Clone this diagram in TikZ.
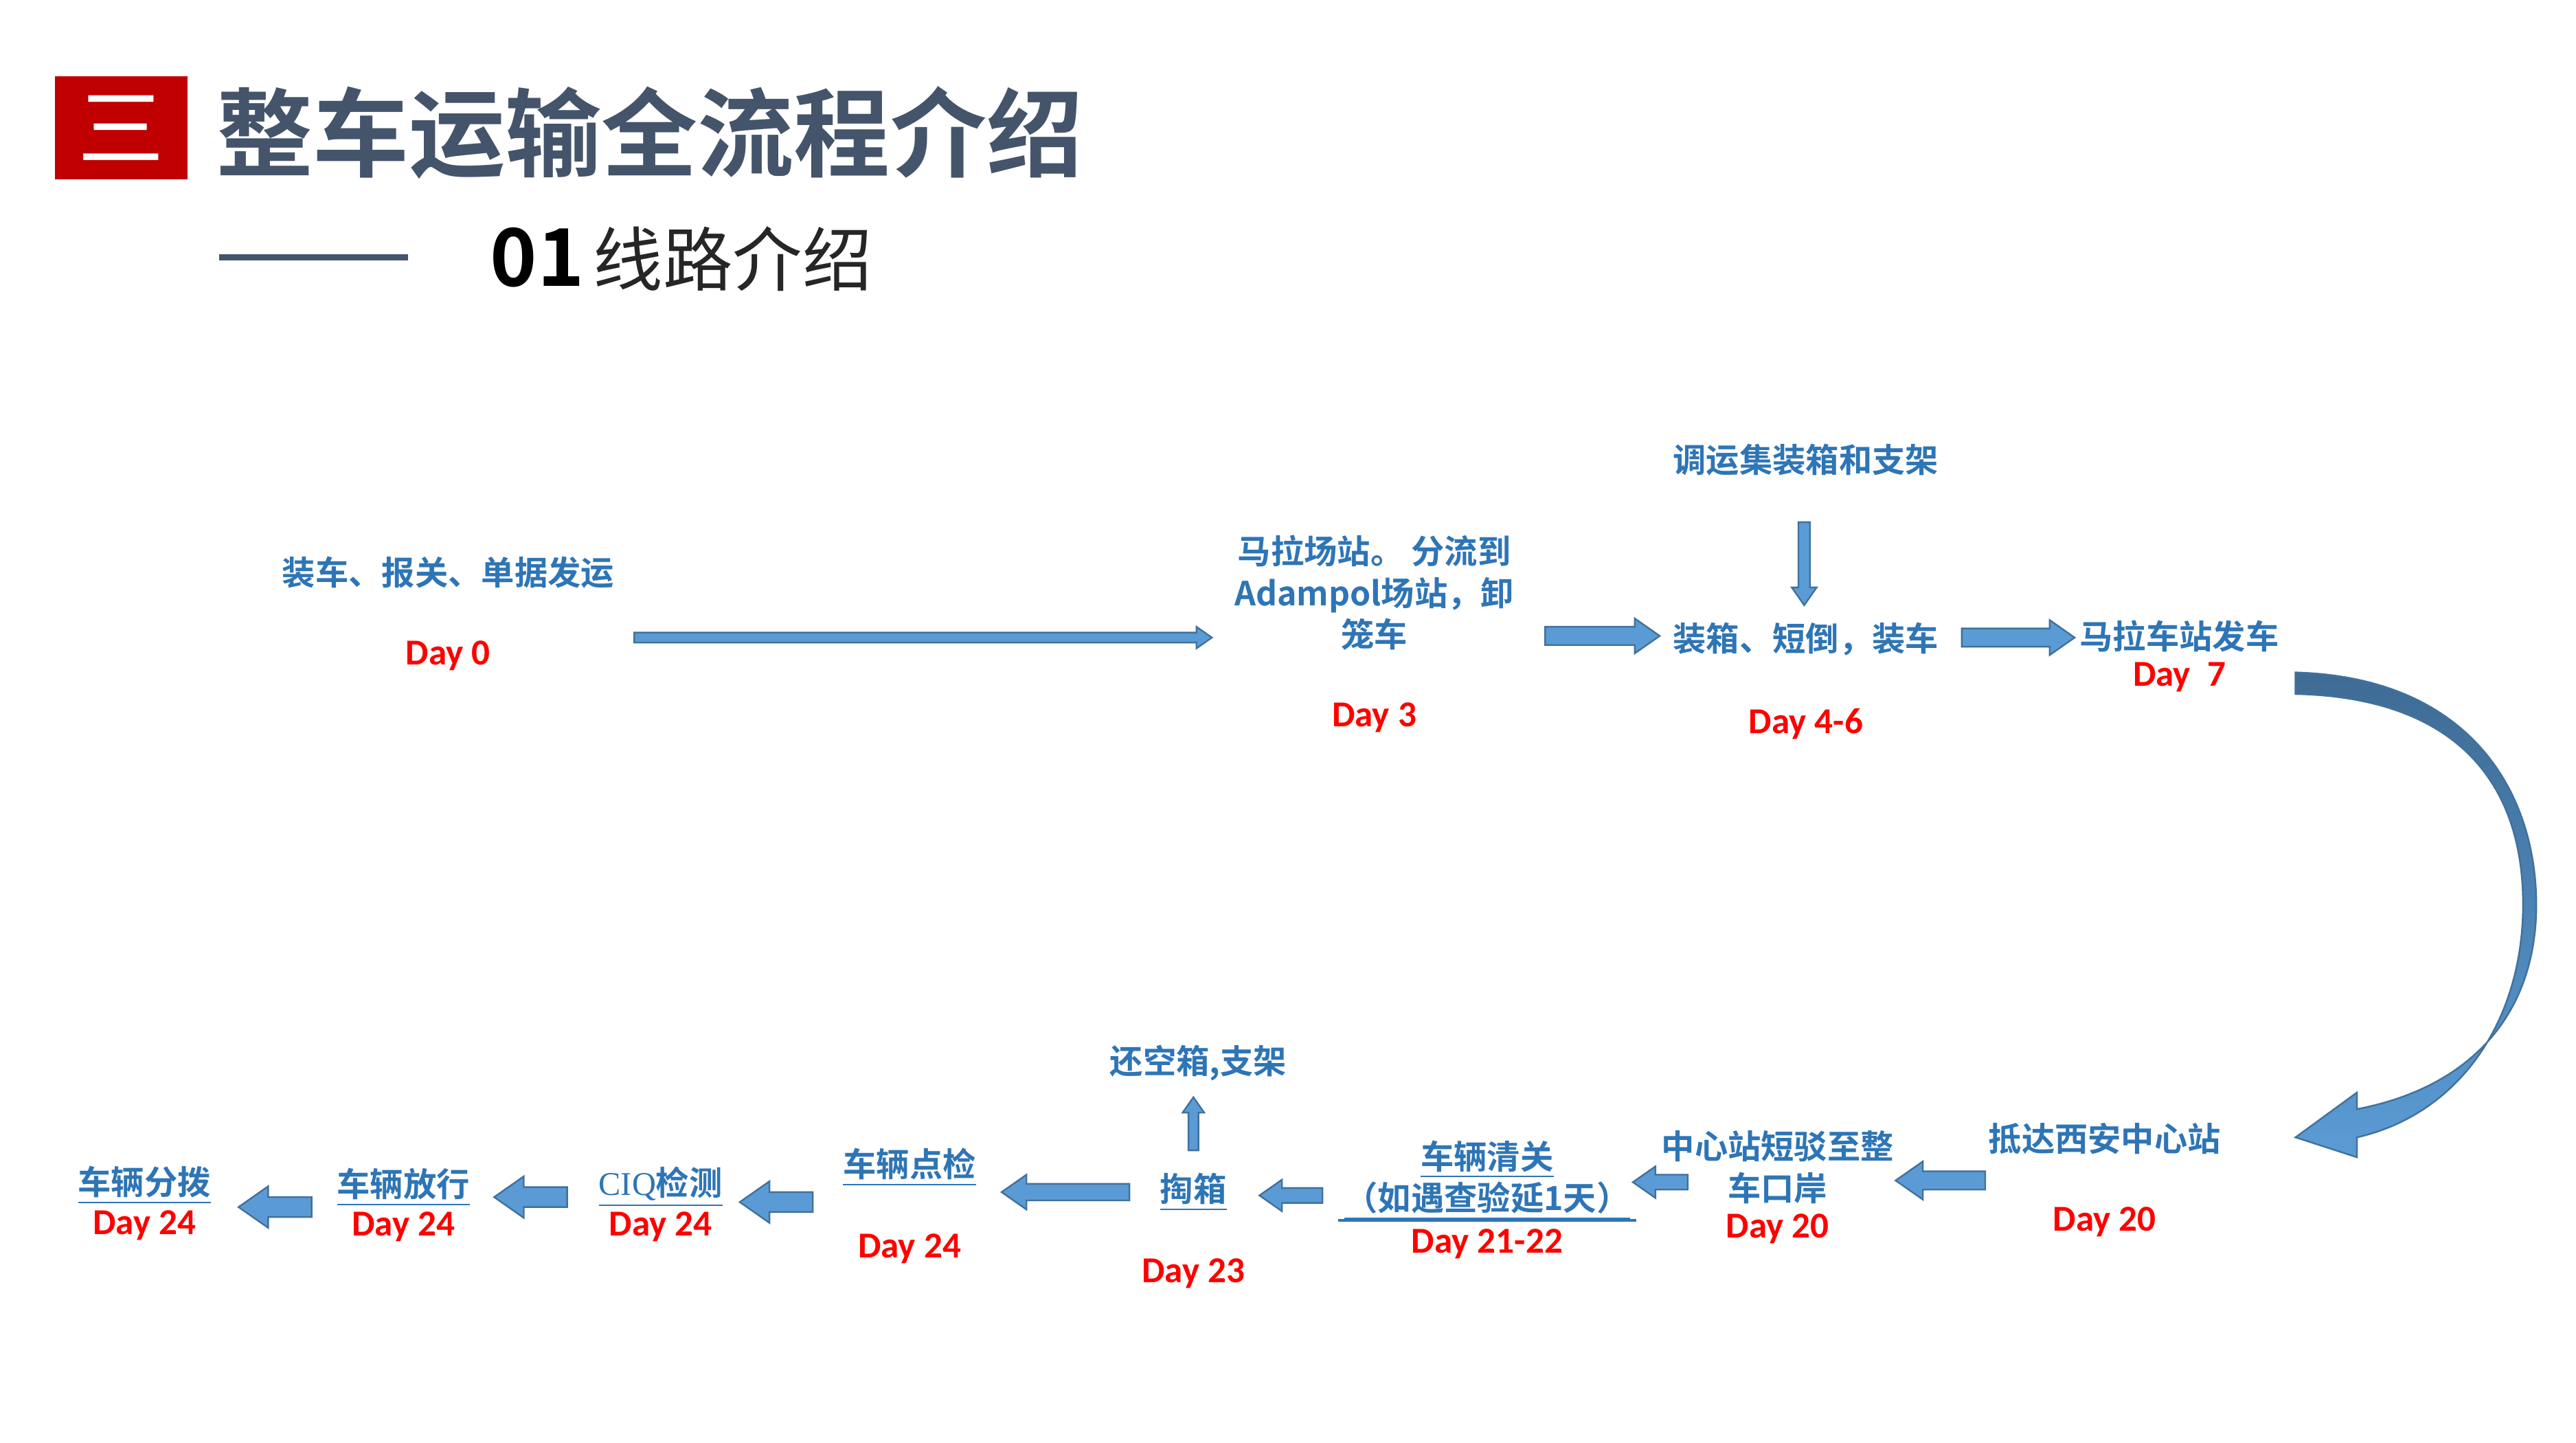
\documentclass[tikz,border=0pt]{standalone}
\usepackage{fontspec}
\setmainfont{Carlito}
\newfontfamily\cjk{Noto Sans CJK SC Bold}
\newfontfamily\cjkr{Noto Sans CJK SC}
\newfontfamily\dayf{Carlito}
\usetikzlibrary{shapes.arrows}
\definecolor{tblue}{HTML}{2E75B6}
\definecolor{afill}{HTML}{5B9BD5}
\definecolor{aline}{HTML}{41719C}
\definecolor{slate}{HTML}{44546A}
\definecolor{dred}{HTML}{C00000}
\newcommand{\barrow}[6]{% name, x1, x2, y, shaft, head ; direction from x1 to x2
  \node[blkarrow, minimum height={abs(#3-#2)*0.5pt}, inner sep={#5*0.25pt}, minimum width={#6*0.5pt},
        single arrow head extend={(#6-#5)*0.25pt}, shape border rotate={(#3>#2)?0:180}] (#1) at ({(#2+#3)/2},#4) {};}
\newcommand{\varrow}[6]{% name, x, y1, y2, shaft, head
  \node[blkarrow, minimum height={abs(#4-#3)*0.5pt}, inner sep={#5*0.25pt}, minimum width={#6*0.5pt},
        single arrow head extend={(#6-#5)*0.25pt}, shape border rotate={(#4>#3)?270:90}] (#1) at (#2,{(#3+#4)/2}) {};}
\begin{document}
\begin{tikzpicture}[x=0.5pt,y=-0.5pt,
  blkarrow/.style={single arrow, fill=afill, draw=aline, line width=0.5pt, single arrow tip angle=70},
  lbl/.style={text=tblue, font=\cjk\fontsize{10}{12.5}\selectfont, align=center, inner sep=0pt},
  day/.style={text=red, font=\dayf\bfseries\fontsize{11}{13}\selectfont, inner sep=0pt}]
\useasboundingbox (0,0) rectangle (1552,869);
\fill[white] (0,0) rectangle (1552,869);
% header
\node[fill=dred, minimum width=40pt, minimum height=31pt, inner sep=0pt, text=white, font=\cjkr\fontsize{26}{26}\selectfont] (num) at (73,77) {三};
\node[anchor=west, text=slate, font=\cjk\fontsize{29}{29}\selectfont, inner sep=0pt] (title) at (130,80) {整车运输全流程介绍};
\draw[slate, line width=2pt] (132,155) -- (246,155);
\node[anchor=west, font=\cjk\fontsize{24}{24}\selectfont, inner sep=0pt] (n01) at (295,155) {01};
\node[anchor=west, font=\cjkr\fontsize{21}{21}\selectfont, inner sep=0pt, text=black!85] (sub) at (357,156) {线路介绍};
% top row
\node[lbl] (t1) at (270,345) {装车、报关、单据发运};
\node[day] (d1) at (270,395) {Day 0};
\barrow{a1}{380}{728}{384}{5}{12}
\node[lbl] (t2) at (828,357) {马拉场站。 分流到\\Adampol场站，卸\\笼车};
\node[day] (d2) at (828,432) {Day 3};
\barrow{a2}{927}{996}{383}{10}{20}
\node[lbl] (t3) at (1088,385) {装箱、短倒，装车};
\node[day] (d3) at (1088,436) {Day 4-6};
\node[lbl] (t3b) at (1088,277) {调运集装箱和支架};
\varrow{a3}{1087}{312}{362}{6}{14}
\barrow{a4}{1178}{1246}{384}{10}{20}
\node[lbl] (t4) at (1313,383) {马拉车站发车};
\node[day] (d4) at (1313,408) {Day\ \ 7};
% curved arrow
\shade[top color=aline!95!black, bottom color=afill, draw=aline, line width=0.5pt]
  (1383,405) .. controls (1490,408) and (1530,480) .. (1528,550)
  .. controls (1526,612) and (1488,655) .. (1420,668) -- (1420,658) -- (1383,685) -- (1420,697) -- (1420,685)
  .. controls (1478,672) and (1518,620) .. (1520,550)
  .. controls (1522,470) and (1478,420) .. (1383,418) -- cycle;
% bottom row
\node[lbl] (b1) at (1268,686) {抵达西安中心站};
\node[day] (e1) at (1268,736) {Day 20};
\barrow{c1}{1200}{1146}{711}{10}{22}
\node[lbl] (b2) at (1071,703) {中心站短驳至整\\车口岸};
\node[day] (e2) at (1071,740) {Day 20};
\barrow{c2}{1020}{987}{712}{8}{18}
\node[lbl] (b3) at (896,711) {\underline{车辆清关}\\\underline{（如遇查验延1天）}};
\draw[tblue, line width=1pt] (806,735) -- (986,735);
\node[day] (e3) at (896,749) {Day 21-22};
\barrow{c3}{800}{762}{720}{8}{18}
\node[lbl] (b4) at (719,718) {\underline{掏箱}};
\node[day] (e4) at (719,767) {Day 23};
\varrow{c4}{719}{695}{663}{5}{12}
\node[lbl] (b4u) at (722,640) {还空箱,支架};
\barrow{c5}{684}{607}{718}{9}{20}
\node[lbl] (b5) at (548,703) {\underline{车辆点检}};
\node[day] (e5) at (548,752) {Day 24};
\barrow{c6}{494}{450}{724}{11}{24}
\node[lbl] (b6) at (398,715) {\underline{{\fontspec{Liberation Serif}CIQ}检测}};
\node[day] (e6) at (398,739) {Day 24};
\barrow{c7}{346}{302}{721}{11}{24}
\node[lbl] (b7) at (243,715) {\underline{车辆放行}};
\node[day] (e7) at (243,739) {Day 24};
\barrow{c8}{192}{148}{727}{11}{24}
\node[lbl] (b8) at (87,714) {\underline{车辆分拨}};
\node[day] (e8) at (87,738) {Day 24};
\end{tikzpicture}
\end{document}
